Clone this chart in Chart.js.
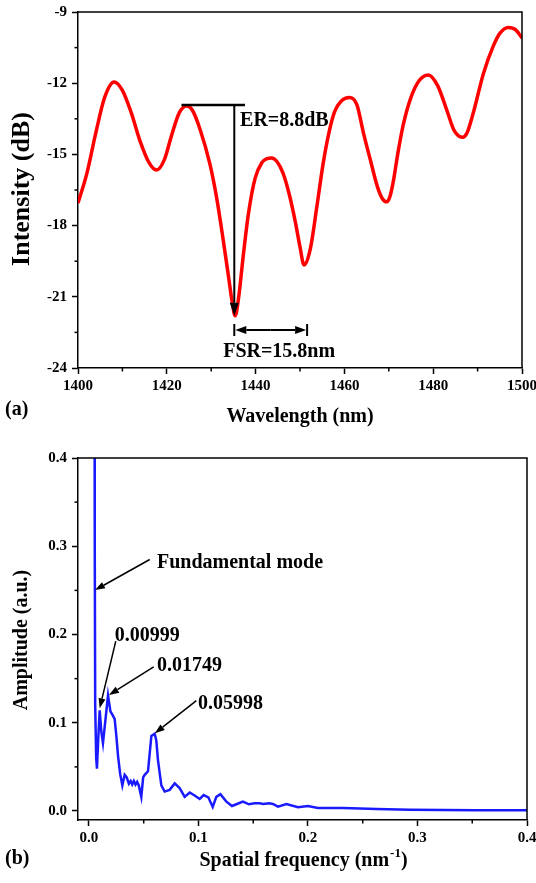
<!DOCTYPE html>
<html>
<head>
<meta charset="utf-8">
<script src="https://cdn.jsdelivr.net/npm/chart.js@4.4.1/dist/chart.umd.min.js"></script>
<style>
  html, body { margin: 0; padding: 0; background: #fff; }
  #wrap { position: relative; width: 536px; height: 883px; }
  #chartA { position: absolute; left: 0; top: 0; }
  #chartB { position: absolute; left: 0; top: 440px; }
</style>
</head>
<body>
<div id="wrap">
  <canvas id="chartA" width="536" height="440"></canvas>
  <canvas id="chartB" width="536" height="443"></canvas>
</div>
<script>
// ── (a) transmission spectrum ─────────────────────────────────
const wavelengthNm = [1400, 1402, 1404, 1406, 1408.1, 1410, 1412, 1414, 1416, 1417.7,
    1419.5, 1421, 1422.8, 1424.5, 1425.8, 1427.5, 1429.7, 1431.2, 1432.7, 1433.9,
    1434.7, 1435.4, 1436.2, 1437.2, 1438.4, 1439.9, 1441.4, 1442.6, 1443.6, 1444.8,
    1446.2, 1447.6, 1448.9, 1450, 1450.9, 1452.3, 1453.8, 1455.2, 1456.5, 1457.8,
    1459.3, 1461.1, 1462.8, 1464.3, 1465.8, 1467.5, 1468.6, 1469.5, 1470.3, 1471.1,
    1472.0, 1473.2, 1474.8, 1476.8, 1478.9, 1481, 1483, 1484.6, 1485.7, 1486.6,
    1487.6, 1489, 1491.3, 1493.5, 1495, 1496.9, 1498.6, 1500];
const intensityDb = [-17.05, -15.8, -14.1, -12.6, -11.95, -12.3, -13.25, -14.45, -15.35, -15.66,
    -15.2, -14.25, -13.25, -12.96, -13.15, -13.95, -15.4, -16.8, -18.6, -20.15,
    -21.2, -21.8, -21.0, -19.3, -17.48, -16.0, -15.35, -15.18, -15.15, -15.3,
    -15.8, -16.7, -17.8, -18.9, -19.66, -19.0, -17.2, -15.4, -14.1, -13.2,
    -12.75, -12.6, -12.9, -14.1, -15.2, -16.4, -16.88, -17.0, -16.75, -16.05,
    -15.0, -13.8, -12.7, -11.9, -11.65, -12.1, -13.1, -13.95, -14.22, -14.28,
    -14.1, -13.27, -11.6, -10.45, -9.9, -9.65, -9.75, -10.1];
const wavelengthTicks = [1400, 1420, 1440, 1460, 1480, 1500];
const wavelengthMinor = [1410, 1430, 1450, 1470, 1490];
const intensityTicks = [-24, -21, -18, -15, -12, -9];
const intensityMinor = [-22.5, -19.5, -16.5, -13.5, -10.5];

// ER / FSR markers, in data units
const erBar   = { x1: 1423.3, x2: 1437.6, y: -12.92 };
const erArrow = { x: 1435.2, yFrom: -12.92, yTo: -21.8 };
const fsrBar  = { x1: 1435.2, x2: 1451.6, y: -22.4 };
const erLabel  = { text: 'ER=8.8dB',   x: 1436.5, y: -13.57 };
const fsrLabel = { text: 'FSR=15.8nm', x: 1432.7, y: -23.31 };

// ── (b) spatial frequency spectrum ────────────────────────────
const spatialFreq = [0.0050, 0.0053, 0.0057, 0.0066, 0.0073, 0.0086, 0.0098, 0.0113, 0.0128, 0.0152,
    0.0174, 0.0196, 0.0219, 0.0235, 0.0250, 0.0266, 0.0285, 0.0305, 0.0326, 0.0345,
    0.0365, 0.0381, 0.0395, 0.0410, 0.0425, 0.0440, 0.0455, 0.0478, 0.0495, 0.0509,
    0.0539, 0.0570, 0.0600, 0.0615, 0.0630, 0.0661, 0.0691, 0.0737, 0.0783, 0.0828,
    0.0874, 0.0920, 0.0965, 0.1011, 0.1048, 0.1090, 0.1130, 0.1163, 0.1200, 0.1255,
    0.1306, 0.1352, 0.1406, 0.1461, 0.1513, 0.1559, 0.1590, 0.1645, 0.1680, 0.1726,
    0.1803, 0.1909, 0.2000, 0.2091, 0.2322, 0.2626, 0.2929, 0.3233, 0.3537, 0.4000];
const amplitude = [0.60, 0.30, 0.12, 0.060, 0.048, 0.085, 0.114, 0.090, 0.077, 0.105,
    0.131, 0.113, 0.108, 0.104, 0.085, 0.062, 0.042, 0.029, 0.041, 0.038,
    0.031, 0.034, 0.030, 0.034, 0.030, 0.033, 0.029, 0.016, 0.038, 0.041,
    0.045, 0.085, 0.0875, 0.080, 0.058, 0.029, 0.022, 0.024, 0.0313, 0.026,
    0.016, 0.021, 0.0175, 0.0136, 0.018, 0.0155, 0.0045, 0.016, 0.019, 0.0106,
    0.0057, 0.0079, 0.0106, 0.0076, 0.0087, 0.0087, 0.008, 0.0087, 0.008, 0.005,
    0.0079, 0.0042, 0.0057, 0.0034, 0.0034, 0.0023, 0.0015, 0.0011, 0.0008, 0.0008];
const freqTicks = [0, 0.1, 0.2, 0.3, 0.4];
const freqMinor = [0.05, 0.15, 0.25, 0.35];
const amplitudeTicks = [0, 0.1, 0.2, 0.3, 0.4];
const amplitudeMinor = [0.05, 0.15, 0.25, 0.35];

// peak call-outs: text anchor, arrow tail, arrow tip (data units)
const peakNotes = [
    { text: 'Fundamental mode', at: [0.0621, 0.2817], from: [0.0555, 0.2850], to: [0.0055, 0.2503] },
    { text: '0.00999',          at: [0.0235, 0.1980], from: [0.0245, 0.1925], to: [0.0098, 0.1163] },
    { text: '0.01749',          at: [0.0621, 0.1642], from: [0.0591, 0.1634], to: [0.0183, 0.1314] },
    { text: '0.05998',          at: [0.0996, 0.1220], from: [0.0981, 0.1250], to: [0.0601, 0.0880] }
];

const SERIF = "'Liberation Serif', 'Times New Roman', serif";

// ── helpers ───────────────────────────────────────────────────
function arrow(ctx, x1, y1, x2, y2, len, half, width) {
    const a = Math.atan2(y2 - y1, x2 - x1);
    const bx = x2 - len * Math.cos(a), by = y2 - len * Math.sin(a);
    ctx.lineWidth = width;
    ctx.beginPath(); ctx.moveTo(x1, y1); ctx.lineTo(bx, by); ctx.stroke();
    ctx.beginPath();
    ctx.moveTo(x2, y2);
    ctx.lineTo(bx + half * Math.sin(a), by - half * Math.cos(a));
    ctx.lineTo(bx - half * Math.sin(a), by + half * Math.cos(a));
    ctx.closePath(); ctx.fill();
}

// fixed-size axis box; label overhang is ignored so the plot area stays put
function axis(min, max, ticks, fmt, pad, size) {
    return {
        type: 'linear', min: min, max: max,
        afterBuildTicks: s => { s.ticks = ticks.map(v => ({ value: v })); },
        afterFit: s => {
            if (s.isHorizontal()) s.height = size; else s.width = size;
            s.paddingLeft = s.paddingRight = s.paddingTop = s.paddingBottom = 0;
        },
        ticks: {
            autoSkip: false, maxRotation: 0, padding: pad, color: '#000',
            font: { family: SERIF, size: 15, weight: 'bold' },
            callback: fmt
        },
        grid: { drawOnChartArea: false, tickLength: 6, tickColor: '#000', tickWidth: 1.5 },
        border: { display: true, color: '#000', width: 1.5 }
    };
}

// frame + minor ticks, shared by both panels
function frame(chart, xMinor, yMinor) {
    const ctx = chart.ctx, a = chart.chartArea;
    const sx = chart.scales.x, sy = chart.scales.y;
    ctx.save();
    ctx.strokeStyle = '#000'; ctx.lineWidth = 1.5;
    ctx.beginPath();
    ctx.moveTo(a.left, a.top); ctx.lineTo(a.right, a.top); ctx.lineTo(a.right, a.bottom);
    ctx.stroke();
    xMinor.forEach(v => {
        const px = sx.getPixelForValue(v);
        ctx.beginPath(); ctx.moveTo(px, a.bottom); ctx.lineTo(px, a.bottom + 3.5); ctx.stroke();
    });
    yMinor.forEach(v => {
        const py = sy.getPixelForValue(v);
        ctx.beginPath(); ctx.moveTo(a.left - 3.5, py); ctx.lineTo(a.left, py); ctx.stroke();
    });
    ctx.restore();
}

// ── panel (a) ─────────────────────────────────────────────────
const decorA = {
    id: 'decorA',
    afterDraw(chart) {
        frame(chart, wavelengthMinor, intensityMinor);
        const ctx = chart.ctx, sx = chart.scales.x, sy = chart.scales.y;
        ctx.save();
        ctx.strokeStyle = '#000'; ctx.fillStyle = '#000';

        // ER reference bar and arrow
        ctx.lineWidth = 2.5;
        ctx.beginPath();
        ctx.moveTo(sx.getPixelForValue(erBar.x1), sy.getPixelForValue(erBar.y));
        ctx.lineTo(sx.getPixelForValue(erBar.x2), sy.getPixelForValue(erBar.y));
        ctx.stroke();
        const ax = sx.getPixelForValue(erArrow.x);
        arrow(ctx, ax, sy.getPixelForValue(erArrow.yFrom), ax, sy.getPixelForValue(erArrow.yTo), 13, 4.5, 2);

        // FSR double arrow with end bars
        const fy = sy.getPixelForValue(fsrBar.y);
        const f1 = sx.getPixelForValue(fsrBar.x1), f2 = sx.getPixelForValue(fsrBar.x2);
        const mid = (f1 + f2) / 2;
        arrow(ctx, mid, fy, f1 + 1, fy, 11, 4, 2);
        arrow(ctx, mid, fy, f2 - 1, fy, 11, 4, 2);
        ctx.lineWidth = 2;
        [f1, f2].forEach(px => {
            ctx.beginPath(); ctx.moveTo(px, fy - 6); ctx.lineTo(px, fy + 6); ctx.stroke();
        });

        ctx.font = 'bold 20px ' + SERIF;
        ctx.textBaseline = 'middle'; ctx.textAlign = 'left';
        [erLabel, fsrLabel].forEach(l => {
            ctx.fillText(l.text, sx.getPixelForValue(l.x), sy.getPixelForValue(l.y));
        });

        // axis titles and panel tag
        ctx.textAlign = 'center';
        ctx.fillText('Wavelength (nm)', 300, 417);
        ctx.textAlign = 'left';
        ctx.fillText('(a)', 5, 410);
        ctx.translate(22, 189);
        ctx.rotate(-Math.PI / 2);
        ctx.textAlign = 'center';
        ctx.font = 'bold 26px ' + SERIF;
        ctx.fillText('Intensity (dB)', 0, 0);
        ctx.restore();
    }
};

new Chart(document.getElementById('chartA'), {
    type: 'line',
    data: {
        datasets: [{
            data: wavelengthNm.map((w, i) => ({ x: w, y: intensityDb[i] })),
            borderColor: '#ff0000',
            borderWidth: 3.5,
            pointRadius: 0,
            cubicInterpolationMode: 'monotone',
            fill: false
        }]
    },
    options: {
        responsive: false,
        animation: false,
        devicePixelRatio: 1,
        layout: { padding: { left: 0, top: 12, right: 14, bottom: 0 } },
        plugins: { legend: { display: false }, tooltip: { enabled: false } },
        scales: {
            x: axis(1400, 1500, wavelengthTicks, v => String(v), 3, 72),
            y: axis(-24, -9, intensityTicks, v => String(v), 5, 78)
        }
    },
    plugins: [decorA]
});

// ── panel (b) ─────────────────────────────────────────────────
const decorB = {
    id: 'decorB',
    afterDraw(chart) {
        frame(chart, freqMinor, amplitudeMinor);
        const ctx = chart.ctx, sx = chart.scales.x, sy = chart.scales.y;
        ctx.save();
        ctx.strokeStyle = '#000'; ctx.fillStyle = '#000';
        ctx.font = 'bold 20px ' + SERIF;
        ctx.textBaseline = 'middle'; ctx.textAlign = 'left';

        peakNotes.forEach(n => {
            arrow(ctx,
                sx.getPixelForValue(n.from[0]), sy.getPixelForValue(n.from[1]),
                sx.getPixelForValue(n.to[0]), sy.getPixelForValue(n.to[1]),
                10, 3.5, 1.5);
            ctx.fillText(n.text, sx.getPixelForValue(n.at[0]), sy.getPixelForValue(n.at[1]));
        });

        // x title with superscript
        const p1 = 'Spatial frequency (nm', p2 = '-1', p3 = ')';
        ctx.font = 'bold 20px ' + SERIF;
        const w1 = ctx.measureText(p1).width, w3 = ctx.measureText(p3).width;
        ctx.font = 'bold 13px ' + SERIF;
        const w2 = ctx.measureText(p2).width;
        let x0 = 303 - (w1 + w2 + w3) / 2;
        const ty = 421;
        ctx.font = 'bold 20px ' + SERIF;
        ctx.fillText(p1, x0, ty);
        ctx.font = 'bold 13px ' + SERIF;
        ctx.fillText(p2, x0 + w1 + 1, ty - 7);
        ctx.font = 'bold 20px ' + SERIF;
        ctx.fillText(p3, x0 + w1 + w2 + 1, ty);

        ctx.fillText('(b)', 5, 419);
        ctx.translate(22, 200);
        ctx.rotate(-Math.PI / 2);
        ctx.textAlign = 'center';
        ctx.fillText('Amplitude (a.u.)', 0, 0);
        ctx.restore();
    }
};

new Chart(document.getElementById('chartB'), {
    type: 'line',
    data: {
        datasets: [{
            data: spatialFreq.map((f, i) => ({ x: f, y: amplitude[i] })),
            borderColor: '#1a1aff',
            borderWidth: 2.5,
            pointRadius: 0,
            tension: 0,
            fill: false
        }]
    },
    options: {
        responsive: false,
        animation: false,
        devicePixelRatio: 1,
        layout: { padding: { left: 0, top: 18, right: 9, bottom: 0 } },
        plugins: { legend: { display: false }, tooltip: { enabled: false } },
        scales: {
            x: axis(-0.01, 0.4, freqTicks, v => v.toFixed(1), 3, 63),
            y: axis(-0.0102, 0.4, amplitudeTicks, v => v.toFixed(1), 5, 78)
        }
    },
    plugins: [decorB]
});
</script>
</body>
</html>
